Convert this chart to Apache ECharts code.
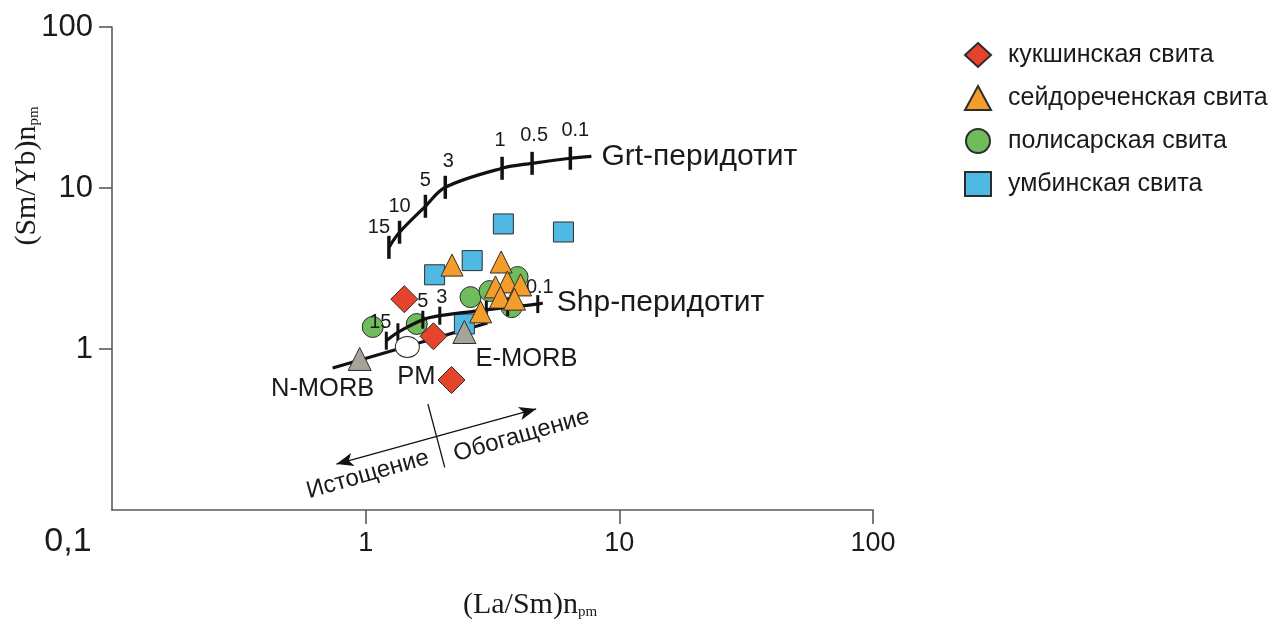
<!DOCTYPE html>
<html>
<head>
<meta charset="utf-8">
<script src="https://cdn.jsdelivr.net/npm/echarts@6/dist/echarts.min.js"></script>
<style>
  html, body { margin: 0; padding: 0; background: #fff; }
  #chart { width: 1272px; height: 626px; }
</style>
</head>
<body>
<div id="chart"></div>
<script>
// (La/Sm)n vs (Sm/Yb)n, both normalised to primitive mantle

// sample groups: [La/Sm, Sm/Yb]
const kukshinData = [[1.42, 2.04], [1.85, 1.20], [2.18, 0.642]];
const seidorechData = [[2.19, 3.32], [3.42, 3.47], [3.62, 2.61], [3.25, 2.43], [4.08, 2.50], [3.40, 2.10], [3.86, 2.04], [2.84, 1.70]];
const polisarData = [[1.066, 1.37], [1.59, 1.43], [2.59, 2.10], [3.08, 2.29], [3.97, 2.80], [3.76, 1.82]];
const umbaData = [[1.87, 2.89], [2.63, 3.54], [3.49, 5.98], [6.02, 5.33], [2.45, 1.43]];

const groupNames = ['кукшинская свита', 'сейдореченская свита', 'полисарская свита', 'умбинская свита'];

// melting curves: melting degree (%) marks along each curve
const meltLabels = ['15', '10', '5', '3', '1', '0.5', '0.1'];
const grtTicks = [[1.235, 4.28], [1.36, 5.31], [1.72, 7.70], [2.06, 10.1], [3.45, 13.26], [4.53, 14.23], [6.41, 15.3]];
const grtEnd = [7.76, 15.74];
const shpTicks = [[1.206, 1.126], [1.34, 1.27], [1.68, 1.52], [1.96, 1.61], [2.99, 1.75], [3.63, 1.82], [4.77, 1.90]];
const shpEnd = [4.99, 1.93];

// mantle reservoirs
const refNames = ['N-MORB', 'PM', 'E-MORB'];
const refValues = [[0.947, 0.867], [1.46, 1.03], [2.45, 1.275]];
const morbLine = [[0.741, 0.762], [3.02, 1.45]];

// depletion / enrichment arrow
const arrowEnds = [[0.767, 0.193], [4.70, 0.424]];
const arrowDivider = [[1.76, 0.455], [2.05, 0.184]];
const arrowTexts = ['Истощение', 'Обогащение'];
const arrowTextAt = [[1.02, 0.166], [4.12, 0.29]];

const axisTicks = [1, 10, 100];
const axisLabels = [0.1, 1, 10, 100];

const SANS = '"Liberation Sans", Arial, sans-serif';
const SERIF = '"Liberation Serif", "Times New Roman", serif';
const INK = '#1a1a1a';
const AXIS = '#5a5a5a';
const EDGE = '#2d2d2d';

// which melt labels stay readable on the Shp curve
const shpShown = new Set(['15', '5', '3', '0.1']);
// small nudges for the melt labels
const grtLabelShift = [[-10, 8], [0, 2], [0, 2], [3, 2], [-2, 0], [2, 0], [5, 0]];
const shpLabelShift = [[-6, 1], [0, 0], [0, 1], [2, 1], [0, 0], [0, 0], [2, 2]];

function tickPoints(ticks, shifts) {
  return ticks.map((p, i) => ({ name: meltLabels[i], value: p, label: { offset: shifts[i] } }));
}

const chart = echarts.init(document.getElementById('chart'));

const refStyle = {
  'N-MORB': { symbol: 'triangle', size: 23, color: '#a8a39a', offset: [-37, 30] },
  'PM': { symbol: 'circle', size: [24, 21], color: '#ffffff', offset: [9, 30] },
  'E-MORB': { symbol: 'triangle', size: 23, color: '#a8a39a', offset: [62, 27] }
};

const option = {
  animation: false,
  backgroundColor: '#fff',
  grid: { left: 112, right: 399, top: 27, bottom: 116 },
  xAxis: {
    type: 'log', logBase: 10, min: 0.1, max: 100,
    axisLine: { lineStyle: { color: AXIS, width: 1.6 } },
    axisTick: { show: true, length: 14, customValues: axisTicks, lineStyle: { color: AXIS, width: 1.6 } },
    axisLabel: {
      customValues: axisLabels,
      fontFamily: SANS, fontSize: 27, color: INK, margin: 20,
      formatter: v => (v < 0.5 ? '{low|0,1}' : String(Math.round(v))),
      rich: { low: { fontFamily: SANS, fontSize: 34, lineHeight: 24, color: INK, padding: [0, 88, 0, 0] } }
    },
    splitLine: { show: false }
  },
  yAxis: {
    type: 'log', logBase: 10, min: 0.1, max: 100,
    axisLine: { lineStyle: { color: AXIS, width: 1.6 } },
    axisTick: { show: true, length: 13, customValues: axisTicks, lineStyle: { color: AXIS, width: 1.6 } },
    axisLabel: {
      customValues: axisTicks,
      fontFamily: SANS, fontSize: 31, color: INK, margin: 19,
      formatter: v => String(Math.round(v))
    },
    splitLine: { show: false }
  },
  legend: {
    orient: 'vertical', left: 964, top: 41, padding: 0,
    itemWidth: 26, itemHeight: 24, itemGap: 15,
    selectedMode: false,
    data: groupNames,
    textStyle: { fontFamily: SANS, fontSize: 25, lineHeight: 28, color: INK, padding: [0, 0, 0, 12] }
  },
  graphic: [
    {
      type: 'text', x: 27, y: 176, rotation: Math.PI / 2,
      style: {
        text: '(Sm/Yb)n{s|pm}', align: 'center', verticalAlign: 'middle',
        font: '30px ' + SERIF, fill: INK,
        rich: { s: { fontFamily: SERIF, fontSize: 15, fill: INK, verticalAlign: 'bottom', padding: [10, 0, 0, 0] } }
      }
    },
    {
      type: 'text', x: 530, y: 605,
      style: {
        text: '(La/Sm)n{s|pm}', align: 'center', verticalAlign: 'middle',
        font: '30px ' + SERIF, fill: INK,
        rich: { s: { fontFamily: SERIF, fontSize: 15, fill: INK, verticalAlign: 'bottom', padding: [10, 0, 0, 0] } }
      }
    }
  ],
  series: [
    {
      name: 'Grt-curve', type: 'line', z: 1, silent: true,
      data: grtTicks.concat([grtEnd]), smooth: 0.35, symbol: 'none',
      lineStyle: { color: '#111', width: 3.2 },
      endLabel: { show: true, formatter: 'Grt-перидотит', fontFamily: SANS, fontSize: 30, color: INK, distance: 10 }
    },
    {
      name: 'Grt-ticks', type: 'scatter', z: 1, silent: true,
      data: tickPoints(grtTicks, grtLabelShift), symbol: 'rect', symbolSize: [3.5, 23],
      itemStyle: { color: '#111', opacity: 1 },
      label: { show: true, position: 'top', distance: 6, formatter: p => p.name, fontFamily: SANS, fontSize: 20, color: INK }
    },
    {
      name: 'Shp-curve', type: 'line', z: 3.5, silent: true,
      data: shpTicks.concat([shpEnd]), smooth: 0.35, symbol: 'none',
      lineStyle: { color: '#111', width: 3.2 },
      endLabel: { show: true, formatter: 'Shp-перидотит', fontFamily: SANS, fontSize: 30, color: INK, distance: 14 }
    },
    {
      name: 'Shp-ticks', type: 'scatter', z: 3.5, silent: true,
      data: tickPoints(shpTicks, shpLabelShift), symbol: 'rect', symbolSize: [3, 18],
      itemStyle: { color: '#111', opacity: 1 },
      label: { show: true, position: 'top', distance: 0, formatter: p => (shpShown.has(p.name) ? p.name : ''), fontFamily: SANS, fontSize: 20, color: INK }
    },
    {
      name: 'MORB-line', type: 'line', z: 1, silent: true,
      data: morbLine, symbol: 'none',
      lineStyle: { color: '#111', width: 3 },
      markLine: {
        silent: true, animation: false,
        lineStyle: { color: '#111', width: 1.3, type: 'solid' },
        label: { show: false },
        data: [
          [{ coord: arrowEnds[0], symbol: 'arrow', symbolSize: [10, 17] }, { coord: arrowEnds[1], symbol: 'arrow', symbolSize: [10, 17] }],
          [{ coord: arrowDivider[0], symbol: 'none' }, { coord: arrowDivider[1], symbol: 'none' }]
        ]
      }
    },
    {
      name: 'arrow-text', type: 'scatter', z: 1, silent: true,
      data: arrowTexts.map((t, i) => ({ name: t, value: arrowTextAt[i] })),
      symbol: 'circle', symbolSize: 1,
      itemStyle: { color: 'rgba(0,0,0,0)', opacity: 1 },
      label: { show: true, position: 'inside', rotate: 16, formatter: p => p.name, fontFamily: SANS, fontSize: 24, color: INK }
    },
    {
      name: groupNames[2], type: 'scatter', z: 3,
      data: polisarData, symbol: 'circle', symbolSize: 21,
      itemStyle: { color: '#70bb5b', borderColor: EDGE, borderWidth: 1, opacity: 1 }
    },
    {
      name: groupNames[3], type: 'scatter', z: 3,
      data: umbaData, symbol: 'rect', symbolSize: 20,
      itemStyle: { color: '#4fb9e3', borderColor: EDGE, borderWidth: 1, opacity: 1 }
    },
    {
      name: groupNames[1], type: 'scatter', z: 4,
      data: seidorechData, symbol: 'triangle', symbolSize: 22,
      itemStyle: { color: '#f49d2a', borderColor: EDGE, borderWidth: 1, opacity: 1 }
    },
    {
      name: groupNames[0], type: 'scatter', z: 4,
      data: kukshinData, symbol: 'diamond', symbolSize: 27,
      itemStyle: { color: '#e6432b', borderColor: EDGE, borderWidth: 1, opacity: 1 }
    },
    {
      name: 'reservoirs', type: 'scatter', z: 5, silent: true,
      data: refNames.map((n, i) => ({
        name: n, value: refValues[i],
        symbol: refStyle[n].symbol, symbolSize: refStyle[n].size,
        itemStyle: { color: refStyle[n].color, borderColor: EDGE, borderWidth: 1, opacity: 1 },
        label: { offset: refStyle[n].offset }
      })),
      label: { show: true, position: 'inside', formatter: p => p.name, fontFamily: SANS, fontSize: 25.5, color: INK }
    }
  ]
};

chart.setOption(option);
</script>
</body>
</html>
